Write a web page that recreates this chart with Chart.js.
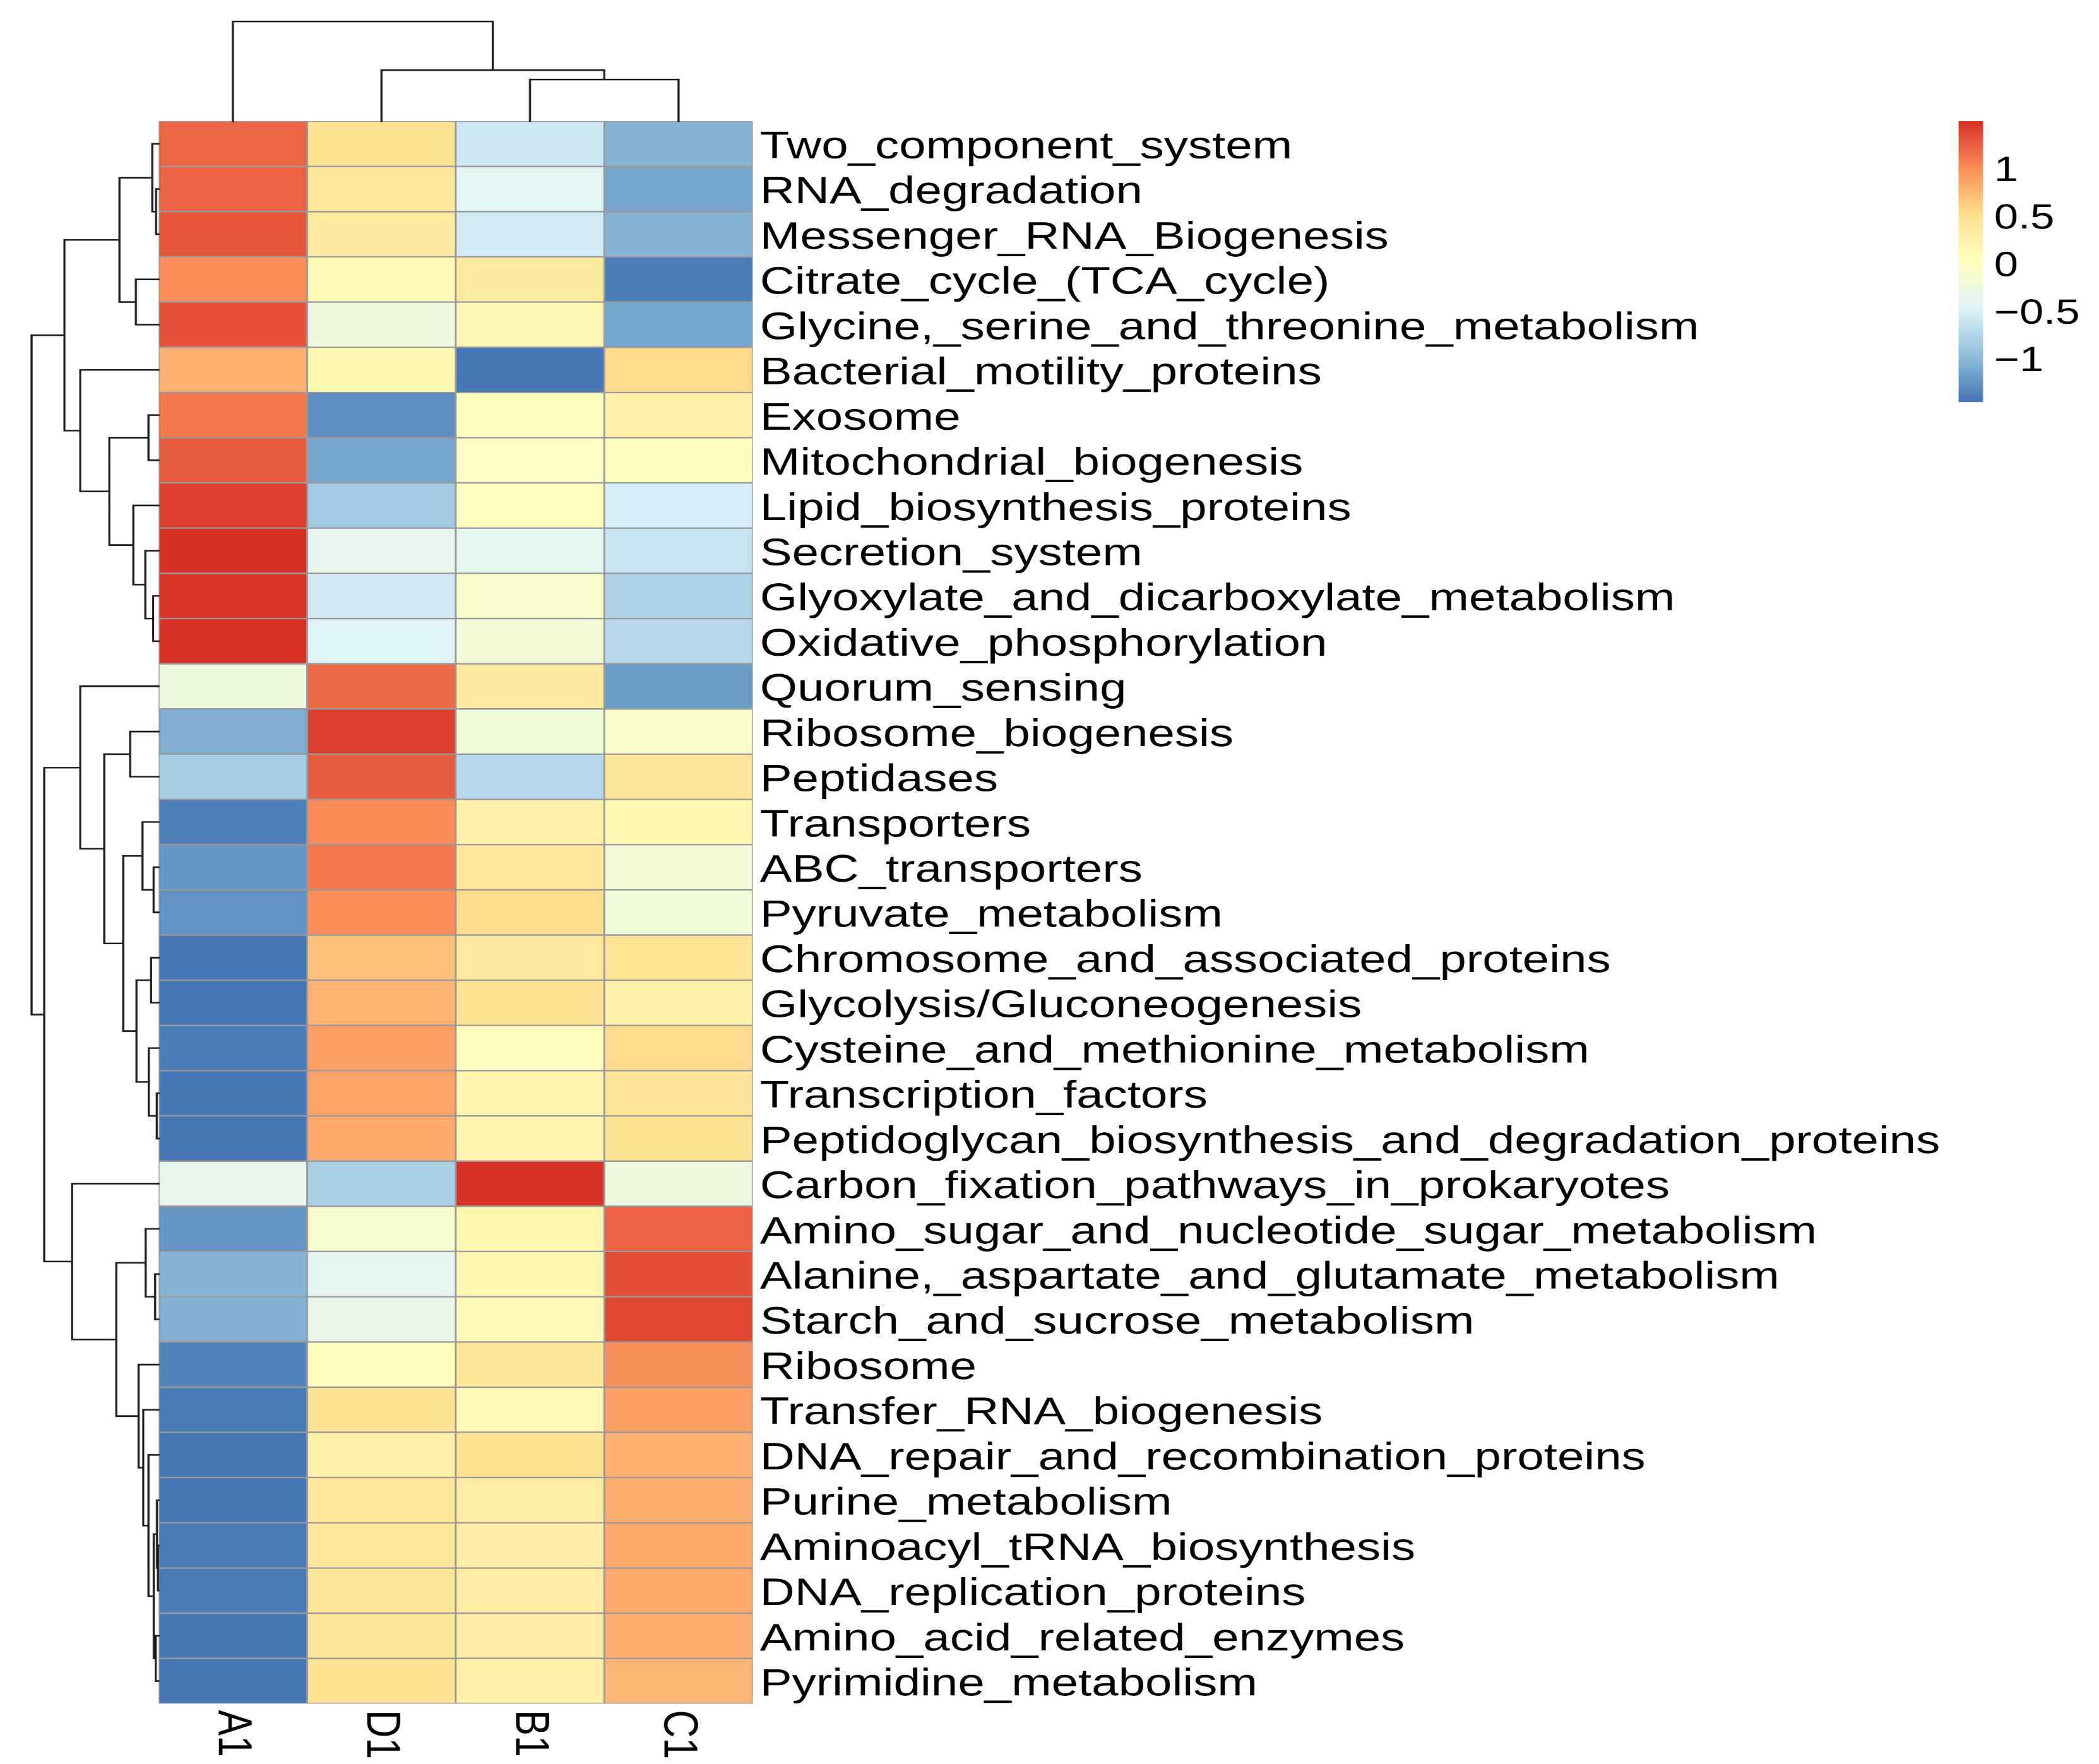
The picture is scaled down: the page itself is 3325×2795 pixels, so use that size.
<!DOCTYPE html>
<html>
<head>
<meta charset="utf-8">
<script src="https://cdn.jsdelivr.net/npm/chart.js@4.4.1/dist/chart.umd.min.js"></script>
<style>
  html, body { margin: 0; padding: 0; background: #ffffff; overflow: hidden; }
  /* the reference is stretched sideways, so the whole drawing is too */
  #wrap { width: 2660px; height: 2795px; transform: scaleX(1.25); transform-origin: 0 0; }
</style>
</head>
<body>
<div id="wrap"><canvas id="heat" width="2660" height="2795"></canvas></div>
<script>
/*****************************************************
 * 0) DATA
 *****************************************************/
const rowLabels = [
  "Two_component_system", "RNA_degradation", "Messenger_RNA_Biogenesis",
  "Citrate_cycle_(TCA_cycle)", "Glycine,_serine_and_threonine_metabolism",
  "Bacterial_motility_proteins", "Exosome", "Mitochondrial_biogenesis",
  "Lipid_biosynthesis_proteins", "Secretion_system",
  "Glyoxylate_and_dicarboxylate_metabolism", "Oxidative_phosphorylation",
  "Quorum_sensing", "Ribosome_biogenesis", "Peptidases", "Transporters",
  "ABC_transporters", "Pyruvate_metabolism", "Chromosome_and_associated_proteins",
  "Glycolysis/Gluconeogenesis", "Cysteine_and_methionine_metabolism",
  "Transcription_factors", "Peptidoglycan_biosynthesis_and_degradation_proteins",
  "Carbon_fixation_pathways_in_prokaryotes", "Amino_sugar_and_nucleotide_sugar_metabolism",
  "Alanine,_aspartate_and_glutamate_metabolism", "Starch_and_sucrose_metabolism",
  "Ribosome", "Transfer_RNA_biogenesis", "DNA_repair_and_recombination_proteins",
  "Purine_metabolism", "Aminoacyl_tRNA_biosynthesis", "DNA_replication_proteins",
  "Amino_acid_related_enzymes", "Pyrimidine_metabolism"
];

const colLabels = ["A1", "D1", "B1", "C1"];

// row-scaled values (z-scores), one array per column
const valuesA1 = [1.2, 1.22, 1.28, 0.98, 1.3, 0.78, 1.1, 1.25, 1.4, 1.48, 1.46, 1.47,
  -0.28, -1.1, -0.85, -1.4, -1.25, -1.28, -1.47, -1.47, -1.42, -1.45, -1.46,
  -0.38, -1.25, -1.05, -1.08, -1.38, -1.43, -1.46, -1.46, -1.44, -1.44, -1.46, -1.46];
const valuesD1 = [0.45, 0.38, 0.33, 0.1, -0.27, 0.14, -1.3, -1.15, -0.88, -0.4, -0.57, -0.5,
  1.18, 1.4, 1.25, 1.0, 1.1, 0.98, 0.68, 0.76, 0.88, 0.86, 0.82,
  -0.82, -0.12, -0.42, -0.35, 0.03, 0.45, 0.25, 0.38, 0.38, 0.4, 0.4, 0.48];
const valuesB1 = [-0.6, -0.45, -0.56, 0.34, 0.12, -1.45, 0.0, -0.05, 0.02, -0.42, -0.1, -0.2,
  0.32, -0.22, -0.75, 0.25, 0.38, 0.52, 0.35, 0.46, 0.0, 0.17, 0.18,
  1.47, 0.15, 0.15, 0.09, 0.4, 0.1, 0.48, 0.3, 0.28, 0.28, 0.28, 0.25];
const valuesC1 = [-1.05, -1.15, -1.05, -1.42, -1.15, 0.53, 0.25, 0.0, -0.54, -0.65, -0.79, -0.75,
  -1.22, -0.08, 0.4, 0.15, -0.2, -0.22, 0.44, 0.25, 0.54, 0.42, 0.46,
  -0.27, 1.22, 1.32, 1.36, 0.97, 0.88, 0.78, 0.8, 0.82, 0.82, 0.8, 0.75];

// hclust-style merges: negative = leaf (1-based), positive = earlier merge step
const rowMerge = [
  [-32, -33, 1], [-31, 1, 2.7], [-34, -35, 4.5], [2, 3, 7.7], [-30, 4, 16],
  [-29, 5, 24.3], [-28, 6, 31.7], [-26, -27, 5.6], [-25, 8, 20.5], [9, 7, 67],
  [-24, 10, 137], [-22, -23, 3], [-21, 12, 15.5], [-19, -20, 12], [14, 13, 35],
  [-17, -18, 8], [-16, 16, 25.5], [17, 15, 56], [-14, -15, 45], [19, 18, 86],
  [-13, 20, 124], [21, 11, 181], [-2, -3, 4], [-1, 23, 10], [-4, -5, 36],
  [24, 25, 62], [-11, -12, 8.7], [-10, 27, 21], [-9, 28, 40], [-7, -8, 16],
  [30, 29, 78], [-6, 31, 124], [26, 32, 149], [33, 22, 201]
];
const colMerge = [[-3, -4, 66], [-2, 1, 81], [-1, 2, 158]];

const legendTicks = [1, 0.5, 0, -0.5, -1];

/*****************************************************
 * 1) COLOUR SCALE => rev(RdYlBu), 7 stops
 *****************************************************/
const rampStops = ["#4575B4", "#91BFDB", "#E0F3F8", "#FFFFBF", "#FEE090", "#FC8D59", "#D73027"];
const allVals = valuesA1.concat(valuesD1, valuesB1, valuesC1);
const vMin = Math.min(...allVals);
const vMax = Math.max(...allVals);

function hexToRgb(h) {
  return [parseInt(h.slice(1, 3), 16), parseInt(h.slice(3, 5), 16), parseInt(h.slice(5, 7), 16)];
}

function colorFor(v) {
  let t = (v - vMin) / (vMax - vMin);
  t = Math.max(0, Math.min(1, t));
  const pos = t * (rampStops.length - 1);
  const i = Math.min(Math.floor(pos), rampStops.length - 2);
  const f = pos - i;
  const a = hexToRgb(rampStops[i]);
  const b = hexToRgb(rampStops[i + 1]);
  const c = a.map((x, k) => Math.round(x + (b[k] - x) * f));
  return `rgb(${c[0]},${c[1]},${c[2]})`;
}

/*****************************************************
 * 2) HELPER => dendrogram from merge list
 *****************************************************/
function drawTree(ctx, merge, leafPos, base, span, horizontal) {
  const rootH = merge[merge.length - 1][2];
  const nodePos = [];
  const nodeDepth = [];
  const posOf = (id) => (id < 0 ? leafPos[-id - 1] : nodePos[id - 1]);
  const depthOf = (id) => (id < 0 ? base : nodeDepth[id - 1]);

  ctx.beginPath();
  merge.forEach((m, i) => {
    const [a, b, h] = m;
    const d = base - (h / rootH) * span;
    const pa = posOf(a), pb = posOf(b);
    const da = depthOf(a), db = depthOf(b);
    if (horizontal) {
      // row tree: depth runs along x, position along y
      ctx.moveTo(da, pa); ctx.lineTo(d, pa);
      ctx.lineTo(d, pb); ctx.lineTo(db, pb);
    } else {
      ctx.moveTo(pa, da); ctx.lineTo(pa, d);
      ctx.lineTo(pb, d); ctx.lineTo(pb, db);
    }
    nodePos[i] = (pa + pb) / 2;
    nodeDepth[i] = d;
  });
  ctx.stroke();
}

/*****************************************************
 * 3) PLUGIN => trees, column labels, colour key
 *****************************************************/
const FONT = '"Liberation Sans", Arial, Helvetica, sans-serif';

const heatDecor = {
  id: "heatDecor",
  afterDraw(chart) {
    const ctx = chart.ctx;
    const area = chart.chartArea;
    const xs = chart.scales.x;
    const ys = chart.scales.y;

    ctx.save();
    ctx.strokeStyle = "#1e1e1e";
    ctx.lineWidth = 2.6;
    ctx.lineCap = "square";

    // row dendrogram (left)
    const rowPos = rowLabels.map((_, i) => ys.getPixelForValue(i));
    drawTree(ctx, rowMerge, rowPos, area.left, 161, true);

    // column dendrogram (top)
    const colPos = colLabels.map((_, i) => xs.getPixelForValue(i + 0.5));
    drawTree(ctx, colMerge, colPos, area.top, 158, false);

    // column labels => rotated, reading downwards
    ctx.fillStyle = "#000";
    ctx.font = `61px ${FONT}`;
    ctx.textAlign = "left";
    ctx.textBaseline = "middle";
    colLabels.forEach((lab, i) => {
      ctx.save();
      ctx.translate(colPos[i] - 1, area.bottom + 10);
      ctx.rotate(Math.PI / 2);
      ctx.fillText(lab, 0, 0);
      ctx.restore();
    });

    // colour key
    const keyLeft = 2482, keyW = 31, keyTop = area.top, keyH = 445;
    const grad = ctx.createLinearGradient(0, keyTop + keyH, 0, keyTop);
    rampStops.forEach((c, i) => grad.addColorStop(i / (rampStops.length - 1), c));
    ctx.fillStyle = grad;
    ctx.fillRect(keyLeft, keyTop, keyW, keyH);

    ctx.fillStyle = "#000";
    ctx.font = `55px ${FONT}`;
    ctx.textAlign = "left";
    ctx.textBaseline = "middle";
    legendTicks.forEach(t => {
      const y = keyTop + (vMax - t) / (vMax - vMin) * keyH;
      const txt = t < 0 ? "\u2212" + String(-t) : String(t);
      ctx.fillText(txt, keyLeft + 45, y + 7);
    });
    ctx.restore();
  }
};

/*****************************************************
 * 4) HEATMAP => stacked horizontal bars, one per column
 *****************************************************/
const columnValues = [valuesA1, valuesD1, valuesB1, valuesC1];

const datasets = colLabels.map((lab, c) => ({
  label: lab,
  data: columnValues[c].map(() => 1),
  backgroundColor: columnValues[c].map(colorFor),
  borderColor: "#9a9a9a",
  borderWidth: 1.5,
  borderSkipped: false,
  barPercentage: 1,
  categoryPercentage: 1,
  stack: "cells"
}));

const ctxHeat = document.getElementById("heat").getContext("2d");
new Chart(ctxHeat, {
  type: "bar",
  data: { labels: rowLabels, datasets },
  options: {
    indexAxis: "y",
    responsive: false,
    animation: false,
    devicePixelRatio: 1.5,
    layout: { padding: { left: 201, top: 192, bottom: 96, right: 106 } },
    plugins: {
      legend: { display: false },
      tooltip: { enabled: false }
    },
    scales: {
      x: { type: "linear", stacked: true, min: 0, max: colLabels.length, display: false },
      y: {
        position: "right",
        stacked: true,
        grid: { display: false, drawTicks: false },
        border: { display: false },
        ticks: {
          autoSkip: false,
          color: "#000",
          padding: 9,
          labelOffset: 6,
          font: { family: FONT, size: 61 }
        },
        afterFit: (scale) => { scale.width = 1600; }
      }
    }
  },
  plugins: [heatDecor]
});
</script>
</body>
</html>
